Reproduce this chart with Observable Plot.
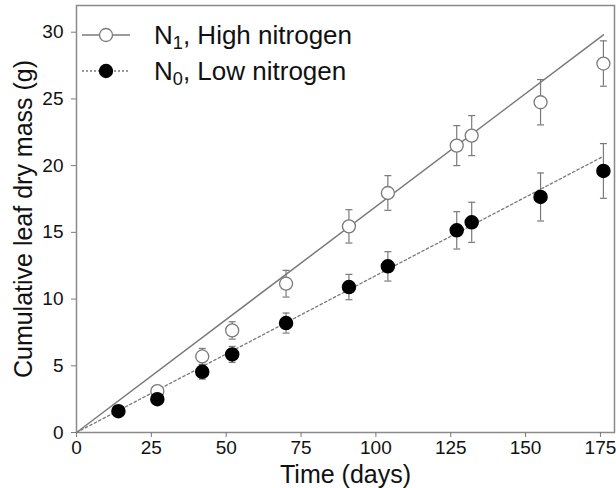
<!DOCTYPE html>
<html>
<head>
<meta charset="utf-8">
<script src="https://cdn.jsdelivr.net/npm/d3@7"></script>
<script src="https://cdn.jsdelivr.net/npm/@observablehq/plot@0.6"></script>
<style>
  body { margin: 0; background: #fff; }
  #wrap { position: relative; width: 616px; height: 488px; font-family: "Liberation Sans", Arial, sans-serif; }
  #wrap svg { font-family: "Liberation Sans", Arial, sans-serif; }
  g[aria-label="x-axis label"] text, g[aria-label="y-axis label"] text { font-size: 25px; }
  #legend { position: absolute; left: 82px; top: 17px; font-size: 26px; color: #111; }
  .row { display: flex; align-items: center; height: 36px; }
  .row svg { margin-right: 24px; }
  sub { font-size: 70%; vertical-align: -0.3em; line-height: 0; }
</style>
</head>
<body>
<div id="wrap"><div id="legend"></div></div>
<script>
// Data
const days = [14, 27, 42, 52, 70, 91, 104, 127, 132, 155, 176];
const highN = [null, 3.1, 5.7, 7.65, 11.15, 15.45, 17.95, 21.5, 22.25, 24.75, 27.65];
const highErr = [null, 0.25, 0.6, 0.65, 1.0, 1.25, 1.3, 1.5, 1.5, 1.7, 1.7];
const lowN = [1.6, 2.5, 4.55, 5.85, 8.2, 10.9, 12.45, 15.15, 15.75, 17.65, 19.6];
const lowErr = [0.1, 0.25, 0.55, 0.6, 0.75, 0.95, 1.1, 1.4, 1.5, 1.8, 2.05];
// Fitted regression lines through the origin (endpoints)
const fitDays = [0, 176];
const fitHigh = [0, 29.8];
const fitLow = [0, 20.7];
const xTicks = [0, 25, 50, 75, 100, 125, 150, 175];
const yTicks = [0, 5, 10, 15, 20, 25, 30];

const hi = days.map((d, i) => ({x: d, y: highN[i], e: highErr[i]})).filter(d => d.y != null);
const lo = days.map((d, i) => ({x: d, y: lowN[i], e: lowErr[i]}));
const fitH = fitDays.map((d, i) => ({x: d, y: fitHigh[i]}));
const fitL = fitDays.map((d, i) => ({x: d, y: fitLow[i]}));

const gray = "#7a7a7a";
const cap = {draw(ctx, size) { const r = Math.sqrt(size / Math.PI); ctx.moveTo(-r, 0); ctx.lineTo(r, 0); }};

const errMarks = (data) => [
  Plot.ruleX(data, {x: "x", y1: d => d.y - d.e, y2: d => d.y + d.e, stroke: gray, strokeWidth: 1.2}),
  Plot.dot(data, {x: "x", y: d => d.y + d.e, symbol: cap, r: 3.5, stroke: gray, strokeWidth: 1.2}),
  Plot.dot(data, {x: "x", y: d => d.y - d.e, symbol: cap, r: 3.5, stroke: gray, strokeWidth: 1.2})
];

const chart = Plot.plot({
  width: 616, height: 488,
  marginLeft: 76, marginRight: 2, marginTop: 5, marginBottom: 56,
  style: {fontSize: "19px", color: "#111", background: "#fff"},
  x: {domain: [0, 179.7]},
  y: {domain: [0, 32]},
  marks: [
    Plot.frame({stroke: "#8a8a8a", strokeWidth: 1.5}),
    Plot.axisX({ticks: xTicks, tickSize: 5, tickPadding: 3, stroke: gray, label: "Time (days)", labelAnchor: "center", labelArrow: "none", labelOffset: 50}),
    Plot.axisY({ticks: yTicks, tickSize: 5, tickPadding: 8, stroke: gray, label: "Cumulative leaf dry mass (g)", labelAnchor: "center", labelArrow: "none", labelOffset: 62}),
    Plot.line(fitH, {x: "x", y: "y", stroke: gray, strokeWidth: 1.5}),
    Plot.line(fitL, {x: "x", y: "y", stroke: gray, strokeWidth: 1.3, strokeDasharray: "2.5,2.5"}),
    ...errMarks(hi),
    ...errMarks(lo),
    Plot.dot(hi, {x: "x", y: "y", r: 6.5, fill: "white", stroke: gray, strokeWidth: 1.3}),
    Plot.dot(lo, {x: "x", y: "y", r: 6.5, fill: "black", stroke: "black"})
  ]
});
document.getElementById("wrap").prepend(chart);

const legendItems = [
  {sub: "1", text: ", High nitrogen", fill: "white", dash: null},
  {sub: "0", text: ", Low nitrogen", fill: "black", dash: "2,2"}
];
const leg = d3.select("#legend");
legendItems.forEach(it => {
  const row = leg.append("div").attr("class", "row");
  const s = row.append("svg").attr("width", 48).attr("height", 20);
  s.append("line").attr("x1", 0).attr("x2", 48).attr("y1", 10).attr("y2", 10)
    .attr("stroke", gray).attr("stroke-width", 1.5).attr("stroke-dasharray", it.dash);
  s.append("circle").attr("cx", 24).attr("cy", 10).attr("r", 6.5)
    .attr("fill", it.fill).attr("stroke", it.fill === "black" ? "black" : gray).attr("stroke-width", 1.3);
  row.append("span").html("N<sub>" + it.sub + "</sub>" + it.text);
});
</script>
</body>
</html>
